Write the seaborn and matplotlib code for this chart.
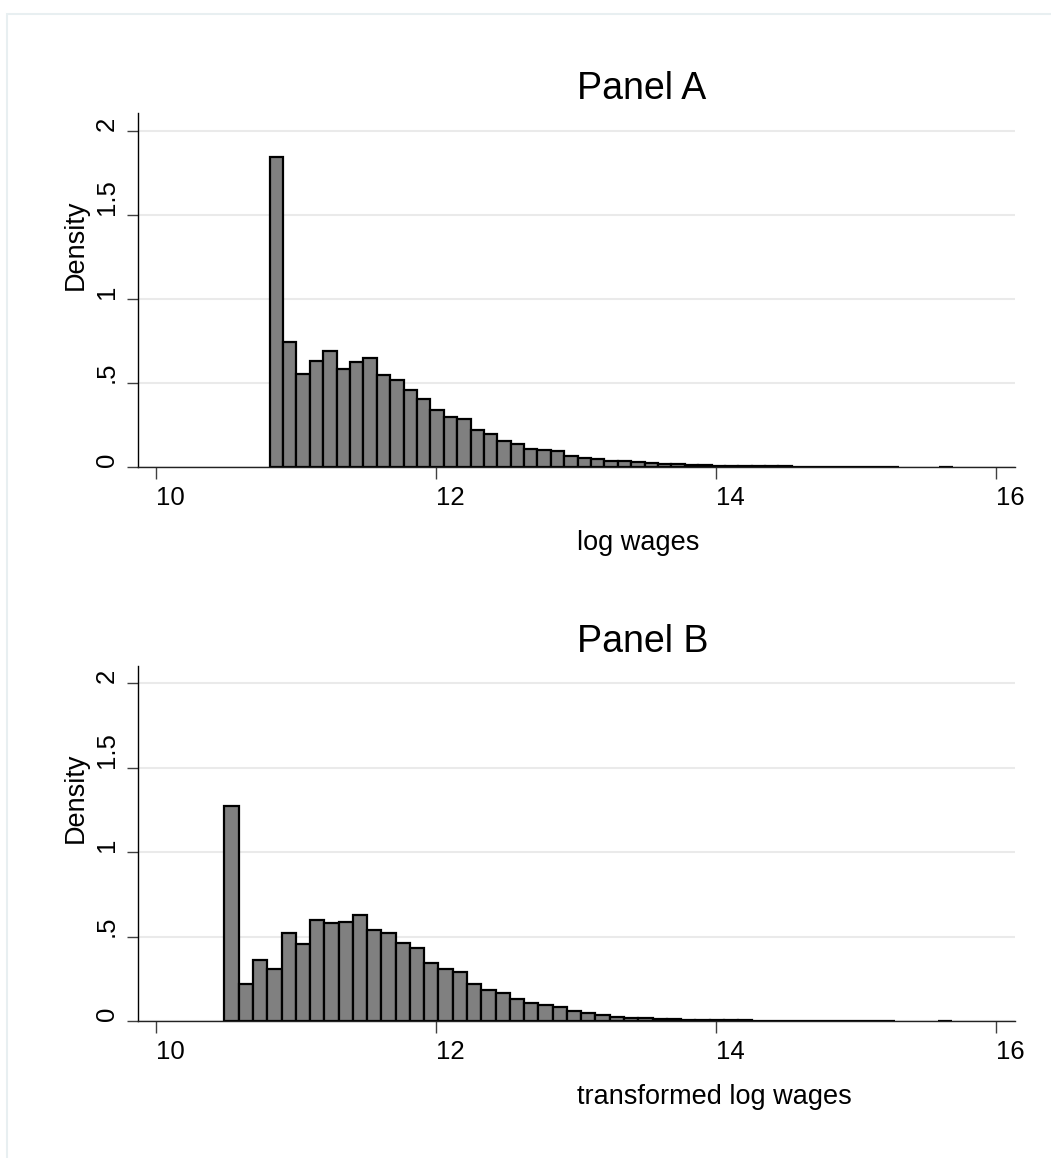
import numpy as np
import pandas as pd
import seaborn as sns
import matplotlib
matplotlib.use("Agg")
from matplotlib import pyplot as plt
from matplotlib.patches import Rectangle

# Panel A: log wages (51 bins)
a_start, a_width = 10.814, 0.0956
a_density = [1.841, 0.742, 0.553, 0.628, 0.687, 0.584, 0.624, 0.647, 0.549, 0.515,
             0.458, 0.405, 0.341, 0.298, 0.286, 0.223, 0.199, 0.154, 0.138, 0.109,
             0.099, 0.093, 0.067, 0.055, 0.047, 0.037, 0.034, 0.028, 0.022, 0.018,
             0.015, 0.012, 0.010, 0.008, 0.007, 0.006, 0.005, 0.004, 0.004, 0.003,
             0.003, 0.003, 0.002, 0.002, 0.002, 0.002, 0.002, 0.0, 0.0, 0.0,
             0.003]

# Panel B: transformed log wages (51 bins)
b_start, b_width = 10.491, 0.1019
b_density = [1.272, 0.217, 0.361, 0.306, 0.523, 0.456, 0.598, 0.582, 0.586, 0.627,
             0.538, 0.519, 0.465, 0.432, 0.345, 0.306, 0.288, 0.219, 0.183, 0.168,
             0.130, 0.105, 0.093, 0.081, 0.061, 0.045, 0.037, 0.024, 0.020, 0.016,
             0.013, 0.010, 0.008, 0.007, 0.006, 0.005, 0.004, 0.003, 0.003, 0.003,
             0.002, 0.002, 0.002, 0.002, 0.002, 0.002, 0.002, 0.0, 0.0, 0.0,
             0.003]

x_ticks = [10, 12, 14, 16]
y_ticks = [0, 0.5, 1, 1.5, 2]
y_ticklabels = ["0", ".5", "1", "1.5", "2"]

sns.set_style("white")
plt.rcParams["font.family"] = ["Liberation Sans", "DejaVu Sans"]
plt.rcParams["text.color"] = "black"
plt.rcParams["xtick.color"] = "black"
plt.rcParams["ytick.color"] = "black"


def panel(ax, start, width, density, title, xlabel):
    edges = start + width * np.arange(len(density) + 1)
    df = pd.DataFrame({"x": edges[:-1] + width / 2, "w": density})
    sns.histplot(data=df, x="x", weights="w", bins=edges.tolist(), ax=ax,
                 color="#808080", edgecolor="black", linewidth=1.6, alpha=1)
    # empty bins are not drawn
    for p in ax.patches:
        if p.get_height() == 0:
            p.set_visible(False)

    ax.set_xlim(9.874, 16.136)
    ax.set_ylim(0, 2.105)
    ax.set_xticks(x_ticks)
    ax.set_xticklabels([str(t) for t in x_ticks], ha="left")
    ax.set_yticks(y_ticks)
    ax.set_yticklabels(y_ticklabels, rotation=90, va="bottom", ha="right")
    ax.tick_params(axis="x", bottom=True, length=8.6, width=1.0, color="#404040",
                   labelcolor="black", pad=5, labelsize=18.5)
    ax.tick_params(axis="y", left=True, length=7.9, width=1.0, color="#404040",
                   labelcolor="black", pad=6, labelsize=18.5)

    ax.yaxis.grid(True, color="#EAEAEA", lw=1.5)
    ax.set_axisbelow(True)
    for s in ["top", "right"]:
        ax.spines[s].set_visible(False)
    ax.spines["left"].set_color("black")
    ax.spines["left"].set_linewidth(1.0)
    ax.spines["bottom"].set_color("#222222")
    ax.spines["bottom"].set_linewidth(1.0)

    ax.set_xlabel("")
    ax.set_ylabel("")
    ax.text(-0.056, 0.5, "Density", transform=ax.transAxes, rotation=90,
            ha="right", va="bottom", fontsize=19.5, color="black")
    ax.text(0.5, 1.0387, title, transform=ax.transAxes, ha="left",
            va="baseline", fontsize=27, color="black")
    ax.text(0.5, -0.2345, xlabel, transform=ax.transAxes, ha="left",
            va="baseline", fontsize=19.5, color="black")


fig = plt.figure(figsize=(10.51, 11.58), dpi=100)
fig.patches.append(Rectangle((0.0067, -0.1), 1.2, 1.0879, transform=fig.transFigure,
                             fill=False, edgecolor="#E8EFF1", lw=1.5))

ax_a = fig.add_axes([0.1313, 0.5967, 0.8345, 0.3057])
ax_b = fig.add_axes([0.1313, 0.1183, 0.8345, 0.3069])

panel(ax_a, a_start, a_width, a_density, "Panel A", "log wages")
panel(ax_b, b_start, b_width, b_density, "Panel B", "transformed log wages")

fig.savefig("out.png", dpi=100)
